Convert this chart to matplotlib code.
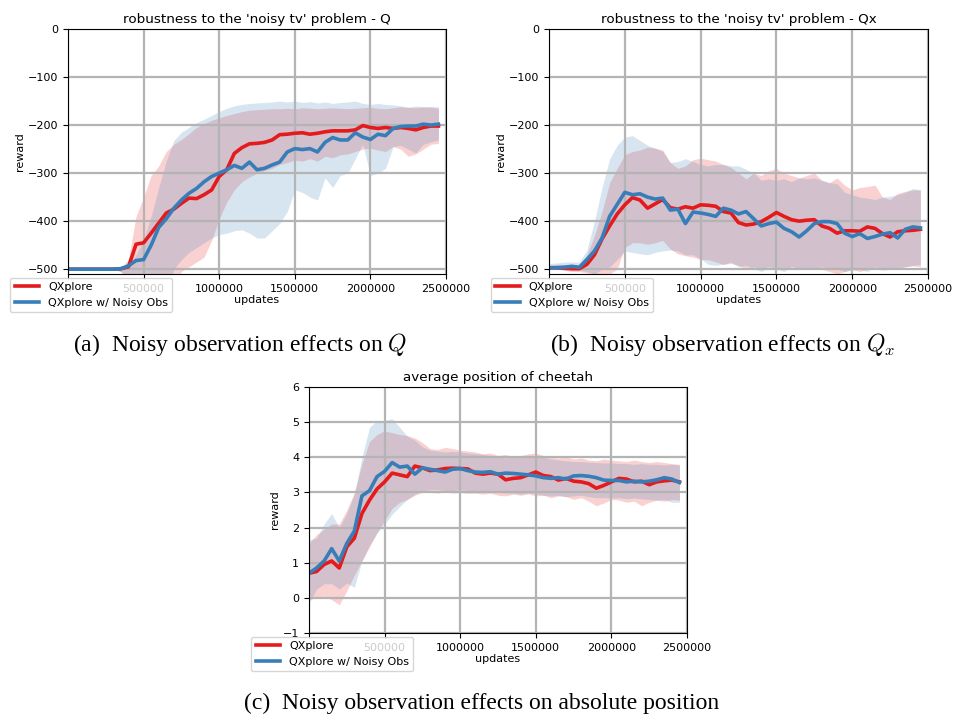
import numpy as np
import matplotlib
matplotlib.use("Agg")
import matplotlib.pyplot as plt

# sample positions (updates)
steps = np.arange(0, 2500000, 50000)

labels = ["QXplore", "QXplore w/ Noisy Obs"]
titles = ["robustness to the 'noisy tv' problem - Q",
          "robustness to the 'noisy tv' problem - Qx",
          "average position of cheetah"]
captions = [r"(a)  Noisy observation effects on $Q$",
            r"(b)  Noisy observation effects on $Q_x$",
            "(c)  Noisy observation effects on absolute position"]

# panel (a): Q
a_red_mean = [-500, -500, -500, -500, -500, -500, -500, -499, -495, -448,
              -445, -425, -404, -383, -375, -363, -352, -353, -345, -335,
              -307, -293, -259, -247, -239, -238, -236, -231, -220, -219,
              -217, -216, -219, -217, -214, -212, -212, -212, -210, -201,
              -205, -207, -205, -207, -205, -207, -210, -205, -202, -202]
a_red_upper = [-500, -500, -500, -500, -500, -500, -500, -497, -480, -390,
               -350, -305, -285, -255, -240, -230, -218, -205, -197, -190,
               -185, -180, -176, -172, -169, -168, -167, -166, -166, -165,
               -166, -164, -165, -166, -165, -164, -165, -166, -165, -164,
               -163, -165, -166, -164, -162, -163, -164, -162, -163, -165]
a_red_lower = [-500, -500, -500, -500, -500, -500, -500, -505, -530, -560,
               -560, -560, -550, -540, -530, -505, -495, -485, -475, -440,
               -395, -360, -335, -318, -308, -300, -295, -290, -282, -278,
               -273, -275, -270, -275, -265, -268, -262, -260, -255, -250,
               -248, -252, -255, -245, -250, -265, -260, -250, -240, -238]
a_blue_mean = [-500, -500, -500, -500, -500, -500, -500, -499, -493, -482,
               -480, -450, -413, -395, -373, -356, -342, -332, -318, -307,
               -300, -293, -284, -290, -277, -293, -290, -283, -277, -256,
               -249, -251, -249, -256, -236, -226, -231, -231, -216, -225,
               -230, -219, -222, -207, -203, -202, -202, -198, -200, -198]
a_blue_upper = [-500, -500, -500, -500, -500, -500, -500, -497, -490, -470,
                -440, -390, -330, -275, -232, -215, -205, -195, -188, -180,
                -172, -165, -160, -157, -155, -154, -153, -152, -150, -152,
                -150, -153, -151, -154, -152, -155, -153, -152, -150, -155,
                -157, -155, -157, -158, -160, -163, -160, -162, -161, -162]
a_blue_lower = [-500, -500, -500, -500, -500, -500, -500, -505, -520, -540,
                -560, -560, -560, -545, -500, -480, -465, -455, -445, -435,
                -428, -425, -420, -418, -425, -435, -435, -420, -405, -380,
                -335, -340, -350, -356, -310, -330, -305, -300, -270, -240,
                -305, -300, -290, -245, -242, -250, -258, -240, -235, -231]

# panel (b): Qx
b_red_mean = [-497, -497, -498, -499, -499, -490, -470, -437, -410, -385,
              -366, -351, -356, -373, -364, -355, -372, -375, -370, -373,
              -366, -367, -369, -380, -383, -403, -408, -406, -401, -392,
              -382, -390, -397, -400, -398, -397, -410, -415, -425, -420,
              -420, -421, -412, -415, -426, -433, -422, -420, -419, -417]
b_red_upper = [-492, -490, -490, -492, -490, -470, -430, -380, -320, -290,
               -262, -255, -252, -246, -248, -252, -278, -290, -285, -272,
               -269, -272, -275, -282, -288, -300, -312, -300, -305, -295,
               -290, -300, -305, -310, -305, -300, -315, -320, -310, -325,
               -335, -330, -328, -325, -350, -355, -342, -338, -335, -335]
b_red_lower = [-500, -500, -502, -505, -505, -508, -520, -520, -510, -500,
               -455, -445, -445, -448, -445, -440, -458, -468, -472, -475,
               -480, -480, -485, -490, -488, -492, -500, -495, -498, -495,
               -497, -500, -495, -498, -500, -496, -500, -505, -510, -505,
               -500, -505, -500, -498, -502, -500, -497, -495, -493, -495]
b_blue_mean = [-497, -497, -496, -494, -496, -480, -462, -435, -390, -365,
               -340, -345, -343, -350, -354, -352, -377, -375, -405, -381,
               -383, -386, -390, -373, -377, -385, -380, -395, -410, -405,
               -402, -415, -422, -433, -420, -405, -401, -401, -405, -425,
               -432, -426, -436, -432, -427, -424, -435, -417, -412, -414]
b_blue_upper = [-488, -487, -485, -485, -485, -460, -400, -330, -270, -242,
                -225, -222, -232, -242, -248, -255, -278, -276, -270, -276,
                -282, -285, -282, -282, -285, -285, -292, -300, -315, -312,
                -315, -312, -318, -310, -312, -310, -315, -320, -322, -340,
                -345, -350, -352, -355, -350, -348, -345, -340, -332, -335]
b_blue_lower = [-500, -500, -500, -500, -502, -505, -510, -500, -495, -480,
                -462, -465, -468, -470, -465, -462, -460, -462, -470, -470,
                -478, -490, -492, -490, -485, -495, -492, -498, -505, -497,
                -500, -505, -495, -500, -497, -500, -495, -498, -500, -505,
                -502, -500, -505, -495, -500, -498, -500, -495, -492, -490]

# panel (c): absolute position
c_red_mean = [0.70, 0.75, 0.95, 1.05, 0.85, 1.45, 1.70, 2.40, 2.78, 3.10,
              3.30, 3.55, 3.50, 3.45, 3.75, 3.70, 3.62, 3.64, 3.68, 3.69,
              3.68, 3.67, 3.55, 3.52, 3.55, 3.52, 3.36, 3.40, 3.42, 3.50,
              3.58, 3.48, 3.45, 3.35, 3.40, 3.32, 3.30, 3.25, 3.12, 3.20,
              3.30, 3.40, 3.38, 3.30, 3.32, 3.22, 3.30, 3.33, 3.35, 3.30]
c_red_upper = [1.55, 1.80, 1.95, 2.10, 2.10, 2.50, 3.00, 3.80, 4.45, 4.65,
               4.75, 4.70, 4.65, 4.62, 4.55, 4.42, 4.25, 4.22, 4.28, 4.25,
               4.20, 4.18, 4.15, 4.10, 4.12, 4.05, 4.08, 4.02, 4.05, 4.10,
               4.12, 4.05, 4.00, 3.98, 4.02, 3.95, 3.98, 3.92, 3.90, 3.95,
               3.92, 3.90, 3.88, 3.92, 3.88, 3.85, 3.88, 3.85, 3.82, 3.80]
c_red_lower = [-0.05, 0.00, 0.05, -0.05, -0.20, 0.20, 0.65, 1.05, 1.45, 1.85,
               2.20, 2.55, 2.72, 2.80, 2.92, 3.00, 3.00, 2.98, 3.02, 2.98,
               3.00, 2.97, 2.98, 2.95, 2.98, 2.92, 2.90, 2.95, 2.92, 2.96,
               2.90, 2.92, 2.85, 2.90, 2.88, 2.80, 2.85, 2.75, 2.62, 2.70,
               2.80, 2.78, 2.72, 2.75, 2.62, 2.72, 2.78, 2.75, 2.80, 2.78]
c_blue_mean = [0.70, 0.85, 1.05, 1.40, 1.05, 1.55, 1.90, 2.90, 3.05, 3.45,
               3.60, 3.85, 3.72, 3.75, 3.52, 3.70, 3.66, 3.62, 3.58, 3.66,
               3.68, 3.62, 3.58, 3.57, 3.59, 3.52, 3.55, 3.54, 3.52, 3.50,
               3.47, 3.42, 3.40, 3.42, 3.38, 3.47, 3.48, 3.46, 3.42, 3.35,
               3.34, 3.34, 3.30, 3.32, 3.30, 3.32, 3.36, 3.42, 3.38, 3.28]
c_blue_upper = [1.65, 1.70, 2.10, 2.40, 2.00, 2.40, 2.95, 4.00, 4.85, 5.05,
                5.05, 5.10, 4.85, 4.60, 4.48, 4.30, 4.20, 4.18, 4.15, 4.17,
                4.15, 4.12, 4.10, 4.08, 4.05, 4.00, 3.98, 4.00, 4.02, 4.05,
                4.05, 4.00, 3.95, 3.92, 3.90, 3.88, 3.88, 3.86, 3.85, 3.84,
                3.84, 3.82, 3.82, 3.80, 3.82, 3.80, 3.80, 3.78, 3.80, 3.78]
c_blue_lower = [-0.15, 0.25, 0.40, 0.40, 0.25, 0.42, 0.30, 1.05, 1.50, 1.85,
                2.10, 2.38, 2.60, 2.80, 2.95, 3.05, 3.08, 3.08, 3.05, 3.05,
                3.08, 3.05, 3.02, 3.03, 3.00, 3.00, 2.98, 2.98, 2.95, 2.98,
                2.96, 2.92, 2.90, 2.92, 2.88, 2.90, 2.92, 2.88, 2.85, 2.85,
                2.84, 2.85, 2.82, 2.84, 2.82, 2.80, 2.78, 2.80, 2.72, 2.72]

red = '#e41a1c'
blue = '#377eb8'

plt.rcParams['mathtext.fontset'] = 'cm'

W, H = 955, 715
fig = plt.figure(figsize=(W / 100, H / 100), dpi=100)

def px_axes(left, top, right, bottom):
    return fig.add_axes([left / W, 1 - bottom / H, (right - left) / W, (bottom - top) / H])

def panel(ax, title, red_series, blue_series, ylim, yticks):
    for (mean, lo, hi), col, lab in [(red_series, red, labels[0]), (blue_series, blue, labels[1])]:
        ax.fill_between(steps, lo, hi, color=col, alpha=0.2, linewidth=0)
        ax.plot(steps, mean, color=col, lw=2.6, label=lab)
    ax.set_xlim(0, 2500000)
    ax.set_ylim(*ylim)
    ax.set_yticks(yticks)
    ax.set_xticks([0, 500000, 1000000, 1500000, 2000000, 2500000])
    ax.ticklabel_format(axis='x', style='plain')
    ax.grid(True, color='#b4b4b4', lw=1.6)
    ax.tick_params(labelsize=8, length=3.5)
    ax.set_title(title, fontsize=9.7, pad=4)
    ax.set_xlabel('updates', fontsize=8, labelpad=1)
    ax.set_ylabel('reward', fontsize=8, labelpad=2)
    ax.legend(loc='lower left', bbox_to_anchor=(-0.153, -0.155), borderaxespad=0,
              fontsize=8, handlelength=2.2, framealpha=0.8)

ax_a = px_axes(68, 29, 446, 274)
panel(ax_a, titles[0], (a_red_mean, a_red_lower, a_red_upper),
      (a_blue_mean, a_blue_lower, a_blue_upper), (-510, 0), [-500, -400, -300, -200, -100, 0])

ax_b = px_axes(549, 29, 928, 274)
panel(ax_b, titles[1], (b_red_mean, b_red_lower, b_red_upper),
      (b_blue_mean, b_blue_lower, b_blue_upper), (-510, 0), [-500, -400, -300, -200, -100, 0])

ax_c = px_axes(309, 387, 687, 633)
panel(ax_c, titles[2], (c_red_mean, c_red_lower, c_red_upper),
      (c_blue_mean, c_blue_lower, c_blue_upper), (-1, 6), [-1, 0, 1, 2, 3, 4, 5, 6])

cap_kw = dict(fontsize=17, family='Liberation Serif', ha='center', va='center')
fig.text(240 / W, 1 - 345 / H, captions[0], **cap_kw)
fig.text(723 / W, 1 - 345 / H, captions[1], **cap_kw)
fig.text(482 / W, 1 - 703 / H, captions[2], **cap_kw)

fig.savefig('out.png', dpi=100)
